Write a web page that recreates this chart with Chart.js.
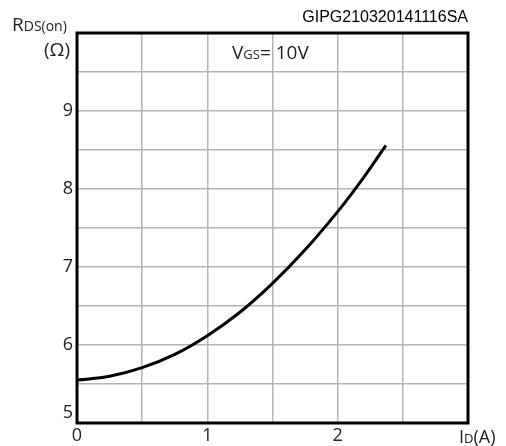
<!DOCTYPE html>
<html>
<head>
<meta charset="utf-8">
<script src="https://cdn.jsdelivr.net/npm/chart.js@4/dist/chart.umd.min.js"></script>
<style>
    html, body { margin: 0; padding: 0; background: #fff; }
    #wrap { width: 506px; height: 446px; position: relative; }
</style>
</head>
<body>
<div id="wrap"><canvas id="chart"></canvas></div>
<script>
// ID (A) and RDS(on) (Ohm)
const currentA = [0, 0.25, 0.5, 0.75, 1, 1.25, 1.5, 1.75, 2, 2.2, 2.37];
const rdsOn = [5.55, 5.60, 5.71, 5.88, 6.12, 6.42, 6.79, 7.22, 7.71, 8.15, 8.56];
const xTickLabels = ['0', '1', '2'];
const yTickLabels = ['5', '6', '7', '8', '9'];

const FONT = '"Open Sans", "Noto Sans", sans-serif';

// draws text runs with mixed sizes (big letter + small subscript-like letters)
function drawRuns(ctx, x, y, runs) {
    let cx = x;
    runs.forEach(r => {
        ctx.font = r.size + 'px ' + FONT;
        ctx.fillText(r.text, cx, y);
        cx += ctx.measureText(r.text).width;
    });
}

const decorations = {
    id: 'decorations',
    afterDraw(chart) {
        const ctx = chart.ctx;
        const area = chart.chartArea;
        const xs = chart.scales.x;
        const ys = chart.scales.y;
        ctx.save();

        // frame
        ctx.strokeStyle = '#000';
        ctx.lineWidth = 3;
        ctx.strokeRect(area.left, area.top, area.right - area.left, area.bottom - area.top);

        ctx.fillStyle = '#222';
        ctx.textBaseline = 'middle';

        // y tick labels
        ctx.font = '18px ' + FONT;
        ctx.textAlign = 'right';
        yTickLabels.forEach(t => {
            let py = ys.getPixelForValue(Number(t));
            if (t === '5') py -= 10;
            ctx.fillText(t, 73, py);
        });

        // x tick labels
        ctx.textAlign = 'center';
        xTickLabels.forEach(t => {
            ctx.fillText(t, xs.getPixelForValue(Number(t)), 436);
        });

        ctx.textAlign = 'left';
        ctx.textBaseline = 'alphabetic';
        // x axis title
        drawRuns(ctx, 459, 443, [
            { text: 'I', size: 18 },
            { text: 'D', size: 13 },
            { text: '(A)', size: 18 }
        ]);

        // y axis title
        drawRuns(ctx, 12, 31, [
            { text: 'R', size: 19 },
            { text: 'DS(on)', size: 14 }
        ]);
        ctx.font = '19px ' + FONT;
        ctx.fillText('(\u03A9)', 44, 56);

        // condition label
        drawRuns(ctx, 232, 59, [
            { text: 'V', size: 19 },
            { text: 'GS', size: 13 },
            { text: '= 10V', size: 19 }
        ]);

        // document code
        ctx.font = '16px "Liberation Sans", Arial, sans-serif';
        ctx.textAlign = 'right';
        ctx.fillStyle = '#000';
        ctx.fillText('GIPG210320141116SA', 468, 22);

        ctx.restore();
    }
};

new Chart(document.getElementById('chart'), {
    type: 'line',
    data: {
        datasets: [{
            data: currentA.map((x, i) => ({ x: x, y: rdsOn[i] })),
            borderColor: '#000',
            borderWidth: 3,
            pointRadius: 0,
            fill: false,
            tension: 0.4
        }]
    },
    options: {
        responsive: true,
        maintainAspectRatio: false,
        animation: false,
        layout: { padding: { left: 0, right: 38, top: 33, bottom: 0 } },
        plugins: {
            legend: { display: false },
            tooltip: { enabled: false }
        },
        scales: {
            x: {
                type: 'linear',
                min: 0,
                max: 3,
                ticks: { stepSize: 0.5, display: false },
                grid: { color: '#b4b4b4', lineWidth: 1.5, drawTicks: false },
                border: { display: false },
                afterFit(scale) { scale.height = 23; }
            },
            y: {
                min: 5,
                max: 10,
                ticks: { stepSize: 0.5, display: false },
                grid: { color: '#b4b4b4', lineWidth: 1.5, drawTicks: false },
                border: { display: false },
                afterFit(scale) { scale.width = 77; }
            }
        }
    },
    plugins: [decorations]
});
</script>
</body>
</html>
